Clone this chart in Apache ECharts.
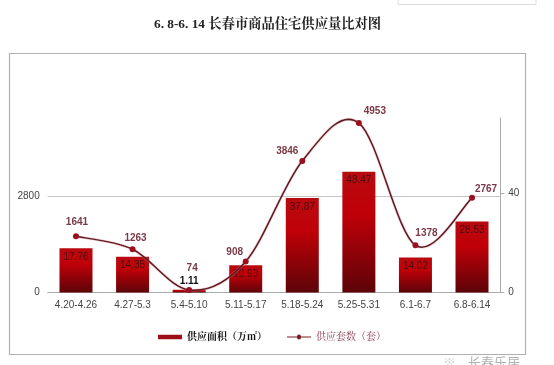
<!DOCTYPE html>
<html><head><meta charset="utf-8">
<style>html,body{margin:0;padding:0;background:#fff}#c{width:554px;height:365px}</style>
<script src="https://cdn.jsdelivr.net/npm/echarts@6/dist/echarts.min.js"></script>
</head><body><div id="c"></div>
<script>
const titleText = '6. 8-6. 14 长春市商品住宅供应量比对图';
const categories = ['4.20-4.26','4.27-5.3','5.4-5.10','5.11-5.17','5.18-5.24','5.25-5.31','6.1-6.7','6.8-6.14'];
const areaValues = [17.76,14.35,1.11,10.93,37.87,48.47,14.02,28.53];
const unitValues = [1641,1263,74,908,3846,4953,1378,2767];
const areaName = '供应面积（万㎡）';
const unitName = '供应套数（套）';
const unitLabelOffsets = [[1,-14],[3,-11],[3,-22],[-11,-9],[-15,-10],[16,-12],[11,-12],[14,-9]];
const serif = '"Liberation Serif","Noto Serif CJK SC","Noto Sans CJK SC",serif';
const sans = '"Liberation Sans",Arial,sans-serif';

const chart = echarts.init(document.getElementById('c'), null, {renderer:'canvas'});

function curveItem(params, api){
  const i = params.dataIndex;
  if (i >= unitValues.length - 1) return null;
  const pt = k => { const j = Math.max(0,Math.min(unitValues.length-1,k)); return api.coord([j, unitValues[j]]); };
  const p0 = pt(i-1), p1 = pt(i), p2 = pt(i+1), p3 = pt(i+2);
  const shape = {
    x1:p1[0], y1:p1[1], x2:p2[0], y2:p2[1],
    cpx1:p1[0]+(p2[0]-p0[0])/6, cpy1:p1[1]+(p2[1]-p0[1])/6,
    cpx2:p2[0]-(p3[0]-p1[0])/6, cpy2:p2[1]-(p3[1]-p1[1])/6
  };
  return {type:'group', children:[
    {type:'bezierCurve', shape, style:{fill:null, stroke:'rgba(230,140,150,0.35)', lineWidth:3}},
    {type:'bezierCurve', shape, style:{fill:null, stroke:'#5c1a22', lineWidth:1.5}}
  ]};
}

const frameColor = '#b0b0b0', scrapColor = '#dcdcdc';
chart.setOption({
  animation:false,
  backgroundColor:'#fff',
  title:{text:titleText,left:154,top:18,padding:0,textStyle:{fontFamily:serif,fontSize:13.3,fontWeight:'bold',color:'#222'}},
  graphic:[
    {type:'rect',shape:{x:9.5,y:53.5,width:516,height:301},style:{fill:'none',stroke:frameColor,lineWidth:1.2},silent:true,z:-1},
    {type:'polyline',shape:{points:[[398,0],[398,4.5],[536,4.5],[536,0]]},style:{fill:'none',stroke:scrapColor,lineWidth:1},silent:true},
    {type:'text',left:443,top:356,style:{text:'※',fontFamily:'"Noto Sans CJK SC"',fontSize:13,fill:'#d4d4d4'},silent:true},
    {type:'text',left:468,top:356,style:{text:'长春乐居',fontFamily:'"Noto Sans CJK SC"',fontSize:13,fill:'#b0b0b0'},silent:true}
  ],
  legend:{
    left:158,top:332,padding:0,itemGap:20,itemWidth:24,itemHeight:13,
    data:[
      {name:areaName,icon:'path://M0 4.5H24V9H0Z',itemStyle:{color:'#9c1018'},textStyle:{fontFamily:serif,fontWeight:'bold',fontSize:10,color:'#111'}},
      {name:unitName,icon:'path://M0 6H10A2 2 0 0 1 14 6H24V7H14A2 2 0 0 1 10 7H0Z',itemStyle:{color:'#7a1a22'},textStyle:{fontFamily:serif,fontSize:10,color:'#8a3c52'}}
    ]
  },
  grid:{left:47.7,right:53.7,top:118,bottom:72.5,containLabel:false},
  xAxis:{type:'category',data:categories,
    axisLine:{lineStyle:{color:'#aaa',width:1}},axisTick:{show:false},
    axisLabel:{fontFamily:sans,fontSize:10,color:'#444',margin:8,interval:0}},
  yAxis:[
    {type:'value',min:0,max:5100,interval:2800,position:'left',
      axisLine:{show:false},axisTick:{show:false},
      axisLabel:{showMaxLabel:false,fontFamily:sans,fontSize:10,color:'#444',margin:8,padding:[2,0,0,0],formatter:v=>String(v)},
      splitLine:{show:true,showMaxLine:false,showMinLine:false,lineStyle:{color:'#c4c4c4',width:1}}},
    {type:'value',min:0,max:70,interval:40,position:'right',
      axisLine:{show:true,lineStyle:{color:'#aaa',width:1}},
      axisTick:{show:true,length:4,customValues:[0,40],lineStyle:{color:'#aaa'}},
      axisLabel:{showMaxLabel:false,fontFamily:sans,fontSize:10,color:'#444',margin:8,padding:[2,0,0,0]},
      splitLine:{show:false}}
  ],
  series:[
    {name:areaName,type:'bar',yAxisIndex:1,barWidth:33,data:areaValues.map((v,i)=>({value:v,
        label: v<2 ? {position:'top',distance:3,color:'#111',fontWeight:'bold'} : undefined})),
      itemStyle:{color:new echarts.graphic.LinearGradient(0,0,0,1,[
        {offset:0,color:'#b80a10'},{offset:0.35,color:'#c00008'},{offset:1,color:'#5c0408'}])},
      label:{show:true,position:'insideTop',distance:4,fontFamily:sans,fontSize:10,color:'#4a0c10'},z:2},
    {name:'curve',type:'custom',yAxisIndex:0,coordinateSystem:'cartesian2d',z:3,silent:true,clip:false,
      renderItem:curveItem,encode:{x:0,y:1},data:unitValues.map((v,i)=>[i,v])},
    {name:unitName,type:'line',yAxisIndex:0,z:4,smooth:false,symbol:'circle',symbolSize:6,
      lineStyle:{width:0,opacity:0},itemStyle:{color:'#9a1020'},
      data:unitValues.map((v,i)=>({value:v,label:{offset:unitLabelOffsets[i]}})),
      label:{show:true,position:'inside',fontFamily:sans,fontSize:10,fontWeight:'bold',color:'#7a3a46'}}
  ]
});
</script></body></html>
